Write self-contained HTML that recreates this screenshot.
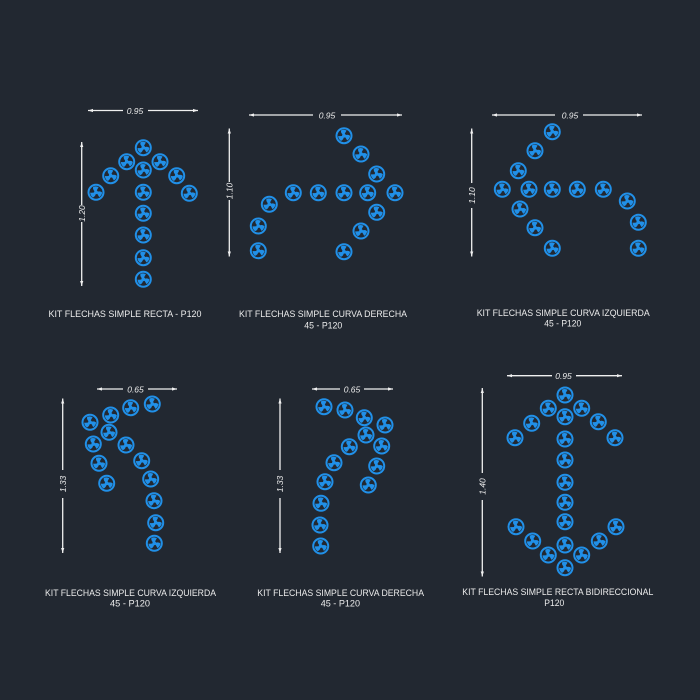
<!DOCTYPE html>
<html><head><meta charset="utf-8"><style>
html,body{margin:0;padding:0;background:#222831;}
svg{display:block}
text{font-family:"Liberation Sans",sans-serif;fill:#ececec}
</style></head><body>
<svg width="700" height="700" viewBox="0 0 700 700" xmlns="http://www.w3.org/2000/svg">
<rect width="700" height="700" fill="#222831"/>
<defs>
<g id="c">
<circle r="7.5" fill="none" stroke="#2190e8" stroke-width="2"/>
<circle r="1.9" fill="#2190e8"/>
<g fill="#2190e8">
<path d="M0,0 Q-3.6,-2.2 -2.9,-5.4 Q0,-6.6 2.6,-5.2 Q0.9,-2.6 0,0Z"/>
<path d="M0,0 Q-3.6,-2.2 -2.9,-5.4 Q0,-6.6 2.6,-5.2 Q0.9,-2.6 0,0Z" transform="rotate(120)"/>
<path d="M0,0 Q-3.6,-2.2 -2.9,-5.4 Q0,-6.6 2.6,-5.2 Q0.9,-2.6 0,0Z" transform="rotate(240)"/>
</g>
</g>
<path id="ar" d="M0,0 L5,-1.6 L5,1.6Z" fill="#f0f0f0"/>
</defs>

<g stroke="#f0f0f0" stroke-width="1.3" fill="none">
<line x1="88" y1="110.5" x2="123" y2="110.5"/><line x1="148" y1="110.5" x2="198" y2="110.5"/>
<line x1="81.7" y1="142" x2="81.7" y2="205"/><line x1="81.7" y1="222" x2="81.7" y2="286"/>
<line x1="249" y1="115" x2="313" y2="115"/><line x1="341" y1="115" x2="402" y2="115"/>
<line x1="229.3" y1="128.5" x2="229.3" y2="182"/><line x1="229.3" y1="200" x2="229.3" y2="256.5"/>
<line x1="492" y1="115" x2="555" y2="115"/><line x1="583" y1="115" x2="642" y2="115"/>
<line x1="471.7" y1="128.5" x2="471.7" y2="183"/><line x1="471.7" y1="208" x2="471.7" y2="256.5"/>
<line x1="97" y1="389" x2="123" y2="389"/><line x1="148" y1="389" x2="177" y2="389"/>
<line x1="62.7" y1="398.5" x2="62.7" y2="470"/><line x1="62.7" y1="498" x2="62.7" y2="553"/>
<line x1="312" y1="389" x2="340" y2="389"/><line x1="364" y1="389" x2="393" y2="389"/>
<line x1="280" y1="398.5" x2="280" y2="470"/><line x1="280" y1="498" x2="280" y2="553"/>
<line x1="507" y1="375.7" x2="552" y2="375.7"/><line x1="576" y1="375.7" x2="622" y2="375.7"/>
<line x1="482.3" y1="388" x2="482.3" y2="473"/><line x1="482.3" y1="500" x2="482.3" y2="576.5"/>
</g>
<g>
<use href="#ar" transform="translate(88,110.5)"/><use href="#ar" transform="translate(198,110.5) rotate(180)"/>
<use href="#ar" transform="translate(81.7,142) rotate(90)"/><use href="#ar" transform="translate(81.7,286) rotate(-90)"/>
<use href="#ar" transform="translate(249,115)"/><use href="#ar" transform="translate(402,115) rotate(180)"/>
<use href="#ar" transform="translate(229.3,128.5) rotate(90)"/><use href="#ar" transform="translate(229.3,256.5) rotate(-90)"/>
<use href="#ar" transform="translate(492,115)"/><use href="#ar" transform="translate(642,115) rotate(180)"/>
<use href="#ar" transform="translate(471.7,128.5) rotate(90)"/><use href="#ar" transform="translate(471.7,256.5) rotate(-90)"/>
<use href="#ar" transform="translate(97,389)"/><use href="#ar" transform="translate(177,389) rotate(180)"/>
<use href="#ar" transform="translate(62.7,398.5) rotate(90)"/><use href="#ar" transform="translate(62.7,553) rotate(-90)"/>
<use href="#ar" transform="translate(312,389)"/><use href="#ar" transform="translate(393,389) rotate(180)"/>
<use href="#ar" transform="translate(280,398.5) rotate(90)"/><use href="#ar" transform="translate(280,553) rotate(-90)"/>
<use href="#ar" transform="translate(507,375.7)"/><use href="#ar" transform="translate(622,375.7) rotate(180)"/>
<use href="#ar" transform="translate(482.3,388) rotate(90)"/><use href="#ar" transform="translate(482.3,576.5) rotate(-90)"/>
</g>

<g font-size="8.5" font-style="italic" text-anchor="middle">
<text x="135" y="113.8">0.95</text>
<text x="327" y="118.3">0.95</text>
<text x="570" y="118.3">0.95</text>
<text x="135.5" y="392.3">0.65</text>
<text x="352" y="392.3">0.65</text>
<text x="563.5" y="379">0.95</text>
<text transform="translate(84.8,213.5) rotate(-90)">1.20</text>
<text transform="translate(232.4,191) rotate(-90)">1.10</text>
<text transform="translate(474.8,195.5) rotate(-90)">1.10</text>
<text transform="translate(65.8,484) rotate(-90)">1.33</text>
<text transform="translate(283.1,484) rotate(-90)">1.33</text>
<text transform="translate(485.4,486.5) rotate(-90)">1.40</text>
</g>

<g font-size="9.5">
<text x="48.5" y="317" textLength="153" lengthAdjust="spacingAndGlyphs">KIT FLECHAS SIMPLE RECTA -  P120</text>
<text x="239" y="317" textLength="168" lengthAdjust="spacingAndGlyphs">KIT FLECHAS SIMPLE CURVA DERECHA</text>
<text x="304.3" y="328.5" textLength="38" lengthAdjust="spacingAndGlyphs">45 - P120</text>
<text x="476.7" y="316" textLength="173" lengthAdjust="spacingAndGlyphs">KIT FLECHAS SIMPLE CURVA IZQUIERDA</text>
<text x="544.3" y="326.5" textLength="37" lengthAdjust="spacingAndGlyphs">45 - P120</text>
<text x="45" y="596" textLength="171" lengthAdjust="spacingAndGlyphs">KIT FLECHAS SIMPLE CURVA IZQUIERDA</text>
<text x="110" y="606.7" textLength="40" lengthAdjust="spacingAndGlyphs">45 -  P120</text>
<text x="257.3" y="596" textLength="166.7" lengthAdjust="spacingAndGlyphs">KIT FLECHAS SIMPLE CURVA DERECHA</text>
<text x="320.7" y="606.7" textLength="39.3" lengthAdjust="spacingAndGlyphs">45 -  P120</text>
<text x="462.3" y="595" textLength="191" lengthAdjust="spacingAndGlyphs">KIT FLECHAS SIMPLE RECTA BIDIRECCIONAL</text>
<text x="544.3" y="606" textLength="20" lengthAdjust="spacingAndGlyphs">P120</text>
</g>

<g>
<use href="#c" x="143.3" y="147.7"/><use href="#c" x="126.7" y="161.7"/><use href="#c" x="160" y="161.7"/>
<use href="#c" x="143.3" y="170"/><use href="#c" x="110.7" y="175.7"/><use href="#c" x="176.7" y="175.7"/>
<use href="#c" x="96" y="192.3"/><use href="#c" x="189.3" y="193.3"/><use href="#c" x="143.3" y="192.3"/>
<use href="#c" x="143.3" y="213.3"/><use href="#c" x="143.3" y="235"/><use href="#c" x="143.3" y="257.7"/>
<use href="#c" x="143.3" y="279.3"/>
</g>
<g>
<use href="#c" x="344" y="135.7"/><use href="#c" x="361" y="154"/><use href="#c" x="376.7" y="174"/>
<use href="#c" x="293.3" y="192.7"/><use href="#c" x="318.3" y="192.7"/><use href="#c" x="344" y="192.7"/>
<use href="#c" x="367.7" y="192.7"/><use href="#c" x="395" y="192.7"/><use href="#c" x="376.7" y="212.3"/>
<use href="#c" x="361" y="231"/><use href="#c" x="344" y="251.7"/><use href="#c" x="269.3" y="204.3"/>
<use href="#c" x="258.3" y="226"/><use href="#c" x="258.3" y="250.7"/>
</g>
<g>
<use href="#c" x="552.3" y="131.7"/><use href="#c" x="535" y="150.7"/><use href="#c" x="518.3" y="170.7"/>
<use href="#c" x="502.3" y="189.3"/><use href="#c" x="529" y="189.3"/><use href="#c" x="552.3" y="189.3"/>
<use href="#c" x="577.3" y="189.3"/><use href="#c" x="603.3" y="189.3"/><use href="#c" x="627.3" y="201"/>
<use href="#c" x="638.3" y="222.3"/><use href="#c" x="638.3" y="248.3"/><use href="#c" x="520" y="209"/>
<use href="#c" x="535" y="227.7"/><use href="#c" x="552.3" y="248.3"/>
</g>
<g>
<use href="#c" x="152.3" y="404"/><use href="#c" x="130.7" y="407.7"/><use href="#c" x="110.7" y="415"/>
<use href="#c" x="90" y="422.3"/><use href="#c" x="109" y="432.3"/><use href="#c" x="126" y="445"/>
<use href="#c" x="93.3" y="444"/><use href="#c" x="141.7" y="460.7"/><use href="#c" x="99" y="463.3"/>
<use href="#c" x="106.7" y="483.3"/><use href="#c" x="150.7" y="479"/><use href="#c" x="154" y="500.7"/>
<use href="#c" x="155.7" y="522.7"/><use href="#c" x="154.3" y="543.3"/>
</g>
<g>
<use href="#c" x="324" y="406.7"/><use href="#c" x="345" y="410"/><use href="#c" x="364.3" y="417.7"/>
<use href="#c" x="385" y="425"/><use href="#c" x="366" y="435"/><use href="#c" x="381.7" y="446"/>
<use href="#c" x="349.3" y="446.7"/><use href="#c" x="376.7" y="466"/><use href="#c" x="334" y="462.7"/>
<use href="#c" x="368.3" y="485"/><use href="#c" x="325" y="481.7"/><use href="#c" x="321" y="503.3"/>
<use href="#c" x="320" y="525"/><use href="#c" x="320.7" y="546"/>
</g>
<g>
<use href="#c" x="565" y="395"/><use href="#c" x="548.3" y="408.3"/><use href="#c" x="581.7" y="408.3"/>
<use href="#c" x="565" y="416.7"/><use href="#c" x="531.7" y="423.3"/><use href="#c" x="598.3" y="421.7"/>
<use href="#c" x="515" y="437.7"/><use href="#c" x="615" y="437.7"/><use href="#c" x="565" y="439"/>
<use href="#c" x="565" y="460"/><use href="#c" x="565" y="482.3"/><use href="#c" x="565" y="502.3"/>
<use href="#c" x="565" y="521.7"/><use href="#c" x="565" y="545"/><use href="#c" x="516" y="526.7"/>
<use href="#c" x="616" y="526.7"/><use href="#c" x="532.7" y="541"/><use href="#c" x="599.3" y="541"/>
<use href="#c" x="548.3" y="555"/><use href="#c" x="581.7" y="555"/><use href="#c" x="565" y="567.7"/>
</g>
</svg>
</body></html>
